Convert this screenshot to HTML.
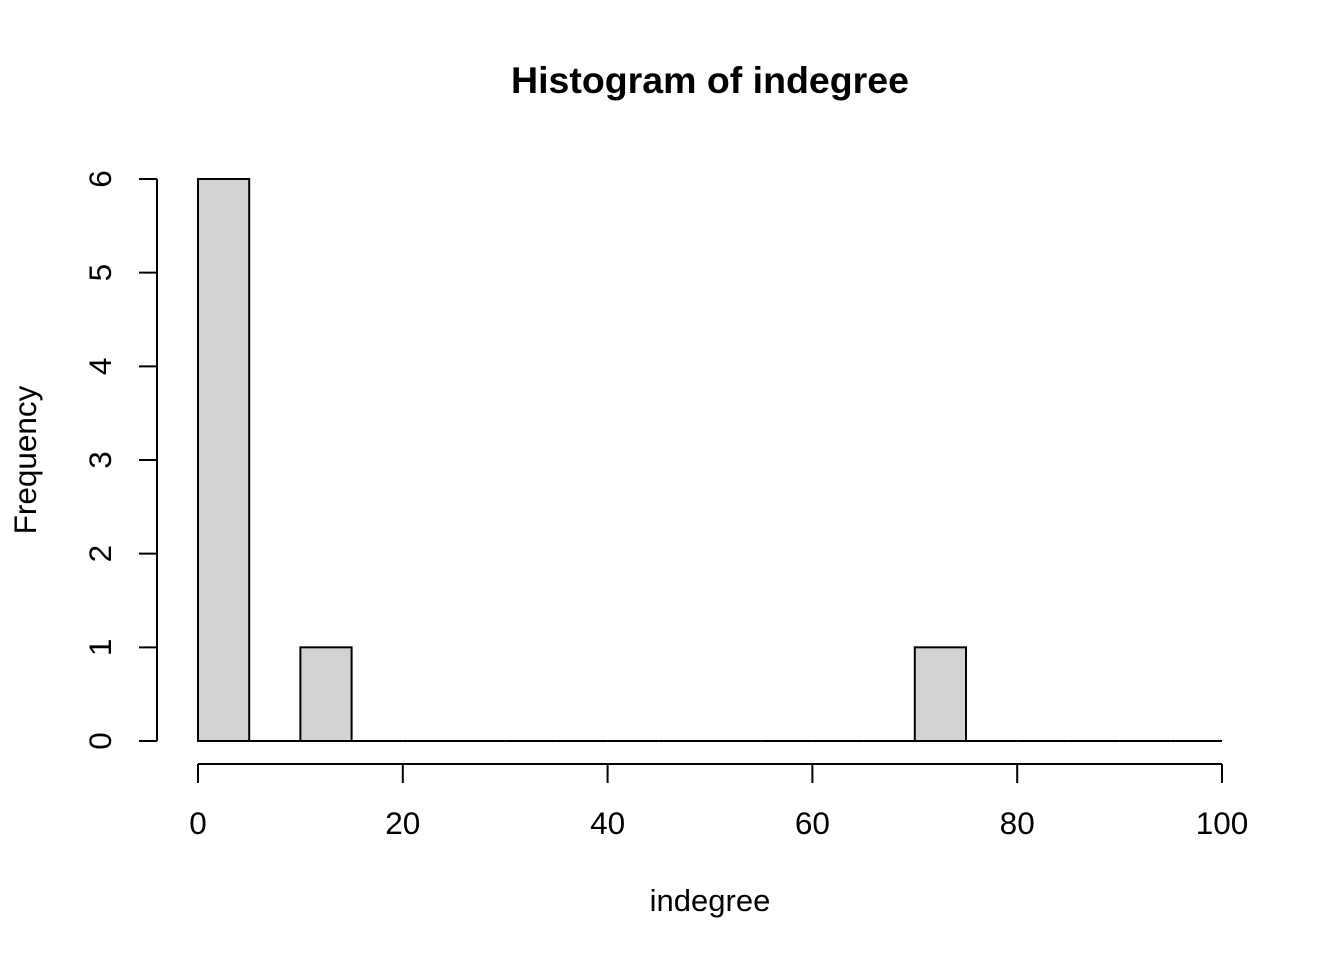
<!DOCTYPE html>
<html><head><meta charset="utf-8"><style>
html,body{margin:0;padding:0;background:#fff;}
svg{display:block;font-family:"Liberation Sans",Arial,sans-serif;}
</style></head><body>
<svg id="chart" width="1344" height="960" viewBox="0 0 1344 960" xmlns="http://www.w3.org/2000/svg">
<text x="710" y="93" text-anchor="middle" font-size="37.5" font-weight="bold">Histogram of indegree</text>
<text x="710" y="911" text-anchor="middle" font-size="31">indegree</text>
<text transform="translate(36,460) rotate(-90)" text-anchor="middle" font-size="31.5">Frequency</text>
<g id="bars"></g>
<g id="xaxis"></g>
<g id="yaxis"></g>
</svg>
<script>
const binStarts = [0,5,10,15,20,25,30,35,40,45,50,55,60,65,70,75,80,85,90,95];
const counts = [6,0,1,0,0,0,0,0,0,0,0,0,0,0,1,0,0,0,0,0];
const binWidth = 5;
const xTicks = [0,20,40,60,80,100];
const yTicks = [0,1,2,3,4,5,6];
const NS = "http://www.w3.org/2000/svg";
const x = v => 198 + v * 10.24;
const y = v => 741 - v * 93.67;
function mk(tag, attrs, parent){const e=document.createElementNS(NS,tag);for(const k in attrs)e.setAttribute(k,attrs[k]);parent.appendChild(e);return e;}
const bars=document.getElementById('bars');
binStarts.forEach((s,i)=>{
  let r;
  if(counts[i]>0){
    r=mk('rect',{x:x(s),y:y(counts[i]),width:x(s+binWidth)-x(s),height:y(0)-y(counts[i]),fill:'#d3d3d3',stroke:'#000','stroke-width':2},bars);
  } else {
    r=mk('line',{x1:x(s),x2:x(s+binWidth),y1:y(0),y2:y(0),stroke:'#000','stroke-width':2},bars);
  }
  
  
});
const xa=document.getElementById('xaxis');
mk('line',{x1:x(xTicks[0]),x2:x(xTicks[xTicks.length-1]),y1:764,y2:764,stroke:'#000','stroke-width':2},xa);
xTicks.forEach(t=>{
  mk('line',{x1:x(t),x2:x(t),y1:764,y2:783,stroke:'#000','stroke-width':2},xa);
  const tx=mk('text',{x:x(t),y:834,'text-anchor':'middle','font-size':31.5},xa);
  tx.textContent=t;
  
  
});
const ya=document.getElementById('yaxis');
mk('line',{x1:157,x2:157,y1:y(yTicks[0]),y2:y(yTicks[yTicks.length-1]),stroke:'#000','stroke-width':2},ya);
yTicks.forEach(t=>{
  mk('line',{x1:139,x2:157,y1:y(t),y2:y(t),stroke:'#000','stroke-width':2},ya);
  const tx=mk('text',{transform:`translate(111,${y(t)}) rotate(-90)`,'text-anchor':'middle','font-size':31.5},ya);
  tx.textContent=t;
  
  
});
</script>
</body></html>
